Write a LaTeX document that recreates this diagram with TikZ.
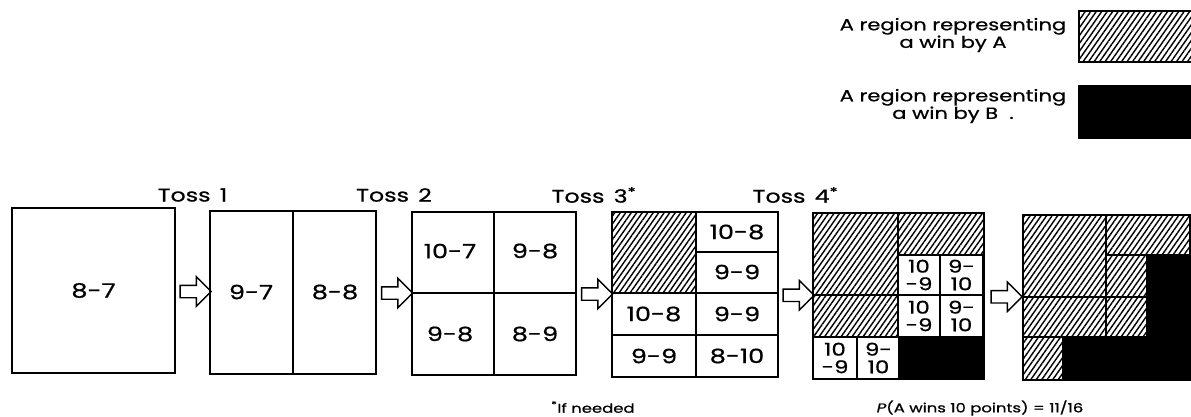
\documentclass[tikz,border=0pt]{standalone}
\usepackage{fontspec}
\setmainfont{Poppins}[FakeStretch=1.3, FakeBold=0.8]
\usetikzlibrary{calc, shapes.arrows, patterns.meta}

\newcommand{\pxu}{0.025cm}

\begin{document}
\begin{tikzpicture}[x=0.025cm, y=-0.025cm, font=\fontsize{14}{15}\selectfont,
  square/.style={draw, line width=1.3pt, inner sep=0pt},
  cell/.style={draw, line width=1.1pt},
  winA/.style={cell, pattern={Lines[angle=55, distance=3.2pt, line width=1pt]}},
  winB/.style={fill=black},
  pair/.style={inner sep=0pt, align=center, font=\fontsize{12.5}{12.5}\selectfont},
  toss/.style={font=\fontsize{13}{15}\selectfont},
  note/.style={font=\fontsize{9}{11}\selectfont},
  key/.style={align=center, font=\fontsize{11.5}{12.5}\selectfont},
  fat/.style={draw, single arrow, line width=1pt, inner xsep=0pt, inner ysep=5.5*\pxu,
    minimum height=31*\pxu, minimum width=29*\pxu,
    single arrow head extend=8.5*\pxu, single arrow head indent=0pt}]

\useasboundingbox (0,0) rectangle (1191,416);

%% legend
\node[key] (keyA) at (953,35) {A region representing\\a win by A};
\node[key] (keyB) at (953,106) {A region representing\\a win by B\ \ .};
\draw[winA] (1079,11) rectangle (1196,62);
\node[draw, winB, line width=1pt, inner sep=0pt, minimum width=117*\pxu,
  minimum height=52*\pxu] (boxB) at (1137.5,112) {};

%% box 4 contents
\draw[winA] (612,212) rectangle (696,293);
\draw[cell] (696,212) -- (696,377);
\draw[cell] (612,293) -- (778,293);
\draw[cell] (696,252) -- (778,252);
\draw[cell] (612,335) -- (778,335);
\node (c41) at (737,232) {10-8};
\node (c42) at (737,272) {9-9};
\node (c43) at (654,314) {10-8};
\node (c44) at (737,314) {9-9};
\node (c45) at (654,356) {9-9};
\node (c46) at (737,356) {8-10};

%% box 5 contents
\draw[winA] (813,213) rectangle (898,295);
\draw[winA] (813,295) rectangle (898,337);
\draw[winA] (898,213) rectangle (984,255);
\fill[winB] (898,337) rectangle (984,379);
\foreach \xa/\xb/\ya/\yb [count=\i] in
  {813/857/337/379, 898/940/255/295, 898/940/295/337}{
  \draw[cell] (\xa,\ya) rectangle (\xb,\yb);
  \draw[cell] (\xb,\ya) rectangle (\xb+43,\yb);
  \node[pair] (p\i a) at ({(\xa+\xb)/2},{(\ya+\yb)/2}) {10\\-9};
  \node[pair] (p\i b) at ({\xb+21.5},{(\ya+\yb)/2}) {9-\\10};
}

%% box 6 contents
\draw[winA] (1023,215) rectangle (1106,297);
\draw[winA] (1023,297) rectangle (1106,337);
\draw[winA] (1106,215) rectangle (1190,255);
\draw[winA] (1106,255) rectangle (1147,297);
\draw[winA] (1106,297) rectangle (1147,337);
\draw[winA] (1023,337) rectangle (1063,380);
\fill[winB] (1147,255) -- (1190,255) -- (1190,380) -- (1063,380)
  -- (1063,337) -- (1147,337) -- cycle;

%% outer squares
\node[square, minimum width=163*\pxu, minimum height=165*\pxu] (s1) at (93.5,290.5) {8-7};
\node[square, minimum width=166*\pxu, minimum height=163*\pxu] (s2) at (293,292.5) {};
\node[square, minimum width=164*\pxu, minimum height=163*\pxu] (s3) at (494,293.5) {};
\node[square, minimum width=166*\pxu, minimum height=165*\pxu] (s4) at (695,294.5) {};
\node[square, minimum width=171*\pxu, minimum height=166*\pxu] (s5) at (898.5,296) {};
\node[square, minimum width=167*\pxu, minimum height=165*\pxu] (s6) at (1106.5,297.5) {};

%% box 2 and box 3
\draw[cell] (s2.north) -- (s2.south);
\node (c21) at (251,292) {9-7};
\node (c22) at (335,292) {8-8};
\draw[cell] (s3.north) -- (s3.south);
\draw[cell] (s3.west |- 0,293) -- (s3.east |- 0,293);
\node (c31) at (450,251) {10-7};
\node (c32) at (535,251) {9-8};
\node (c33) at (450,334) {9-8};
\node (c34) at (535,334) {8-9};

%% arrows
\node[fat] (a1) at ($(s1.east)!0.5!(s2.west)$) {};
\node[fat] (a2) at ($(s2.east)!0.5!(s3.west)$) {};
\node[fat] (a3) at ($(s3.east)!0.5!(s4.west)$) {};
\node[fat] (a4) at ($(s4.east)!0.5!(s5.west)$) {};
\node[fat] (a5) at ($(s5.east)!0.5!(s6.west)$) {};

\node[toss] (t1) at (a1 |- 0,195) {Toss\enspace 1};
\node[toss] (t2) at (a2 |- 0,195) {Toss\enspace 2};
\node[toss] (t3) at (a3 |- 0,195) {Toss\enspace 3\textsuperscript{*}};
\node[toss] (t4) at (a4 |- 0,195) {Toss\enspace 4\textsuperscript{*}};

%% notes
\node[note] (n1) at (593,407) {\textsuperscript{*}If needed};
\node[note] (n2) at (980,408) {\textit{P}(A wins 10 points) = 11/16};

\end{tikzpicture}
\end{document}
